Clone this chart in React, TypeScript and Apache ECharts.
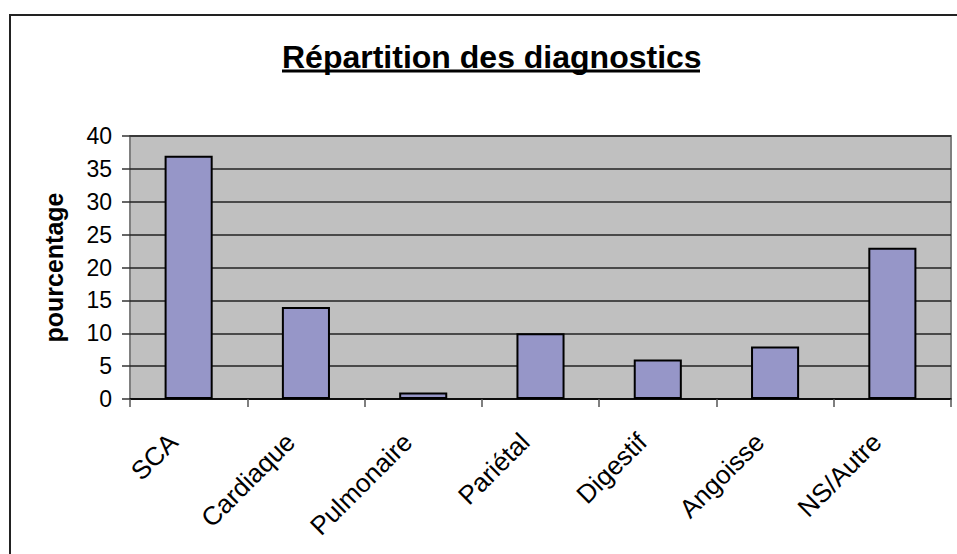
import React, { useEffect, useRef } from "react";
import * as echarts from "echarts";

const categories = ["SCA", "Cardiaque", "Pulmonaire", "Pariétal", "Digestif", "Angoisse", "NS/Autre"];
const values = [37, 14, 1, 10, 6, 8, 23];
const titleText = "Répartition des diagnostics";
const yAxisName = "pourcentage";
const yMin = 0;
const yMax = 40;
const yInterval = 5;

export default function App() {
  const ref = useRef<HTMLDivElement>(null);
  useEffect(() => {
    if (!ref.current) return;
    const chart = echarts.init(ref.current, null, { renderer: "svg" });
    const font = "'Liberation Sans', Arial, sans-serif";
    chart.setOption({
      animation: false,
      backgroundColor: "#ffffff",
      title: {
        text: titleText,
        left: 277,
        top: 36,
        textStyle: { fontFamily: font, fontSize: 32, fontWeight: "bold", color: "#000" },
      },
      graphic: [
        {
          type: "rect",
          shape: { x: 10, y: 15, width: 980, height: 600 },
          style: { fill: "none", stroke: "#222", lineWidth: 2 },
          silent: true,
        },
        {
          type: "line",
          shape: { x1: 282, y1: 71, x2: 700, y2: 71 },
          style: { stroke: "#000", lineWidth: 3 },
          silent: true,
        },
      ],
      grid: {
        left: 130,
        top: 136,
        right: 6,
        bottom: 155,
        show: true,
        backgroundColor: "#c0c0c0",
        borderColor: "#808080",
        borderWidth: 2,
      },
      xAxis: {
        type: "category",
        data: categories,
        axisLine: { show: true, lineStyle: { color: "#000", width: 1.5 } },
        axisTick: { show: true, length: 8, lineStyle: { color: "#555", width: 1.5 } },
        axisLabel: {
          rotate: 45,
          margin: 23,
          padding: [0, 22, 0, 0],
          fontFamily: font,
          fontSize: 26,
          color: "#000",
          interval: 0,
        },
      },
      yAxis: {
        type: "value",
        min: yMin,
        max: yMax,
        interval: yInterval,
        name: yAxisName,
        nameLocation: "middle",
        nameGap: 64,
        nameTextStyle: { fontFamily: font, fontSize: 25, fontWeight: "bold", color: "#000" },
        axisLine: { show: false },
        axisTick: { show: true, length: 8, lineStyle: { color: "#333", width: 1.5 } },
        axisLabel: { margin: 18, fontFamily: font, fontSize: 23, color: "#000" },
        splitLine: { show: true, lineStyle: { color: "#222", width: 1.5 } },
      },
      series: [
        {
          type: "bar",
          data: values,
          barWidth: "41%",
          itemStyle: { color: "#9696c8", borderColor: "#000", borderWidth: 2 },
        },
      ],
    });
    return () => chart.dispose();
  }, []);
  return <div ref={ref} style={{ width: 957, height: 554, position: "absolute", left: 0, top: 0 }} />;
}
